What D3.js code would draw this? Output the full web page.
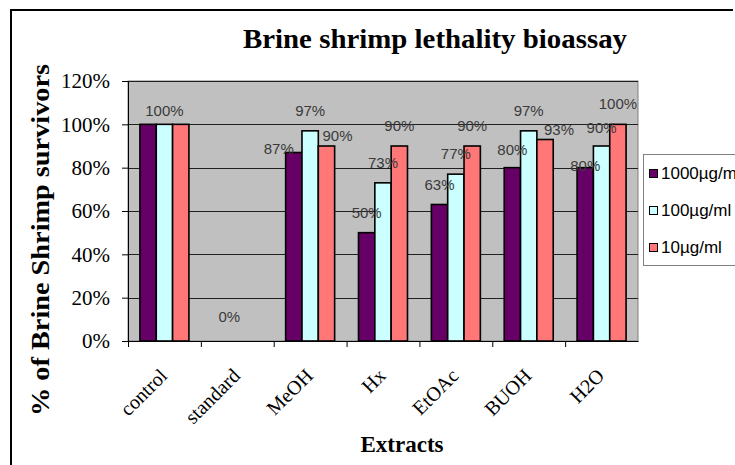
<!DOCTYPE html>
<html>
<head>
<meta charset="utf-8">
<script src="https://cdn.jsdelivr.net/npm/d3@7"></script>
<style>
  html, body { margin: 0; padding: 0; background: #fff; }
  svg { display: block; }
</style>
</head>
<body>
<svg id="chart" width="735" height="465"></svg>
<script>
// ---- data ----
const categories = ["control", "standard", "MeOH", "Hx", "EtOAc", "BUOH", "H2O"];
const seriesNames = ["1000\u00b5g/ml", "100\u00b5g/ml", "10\u00b5g/ml"];
const values1000 = [100, 0, 87, 50, 63, 80, 80];
const values100  = [100, 0, 97, 73, 77, 97, 90];
const values10   = [100, 0, 90, 90, 90, 93, 100];
const yTicks = [0, 20, 40, 60, 80, 100, 120];
const titleText = "Brine shrimp lethality bioassay";
const yTitle = "% of Brine Shrimp survivors";
const xTitle = "Extracts";

// ---- layout / style config ----
const colors = ["#660066", "#CCFFFF", "#FF7777"];
// label nudges (dx, dy) and hidden labels, keyed "category|seriesIndex"
const labelNudge = {
  "control|0": null, "control|2": null, "control|1": [0, 7],
  "standard|0": null, "standard|2": null, "standard|1": [-8, -4],
  "MeOH|0": [-15, 16], "MeOH|2": [11, 10],
  "BUOH|0": [0, 2], "BUOH|2": [14, 10],
  "H2O|0": [0, 18], "H2O|1": [0, 2]
};

const svg = d3.select("#chart");
const plot = { left: 128, right: 638, top: 81, bottom: 341 };

const series = [values1000, values100, values10].map((vals, i) => ({
  name: seriesNames[i], color: colors[i],
  points: categories.map((c, j) => ({ cat: c, v: vals[j], si: i }))
}));

const x = d3.scaleBand().domain(categories).range([plot.left, plot.right]).padding(0);
const y = d3.scaleLinear().domain([0, 120]).range([plot.bottom, plot.top]);
const groupW = 49;
const xs = d3.scaleBand().domain([0, 1, 2]).range([0, groupW]).padding(0);

// outer frame
svg.append("line").attr("x1", 11).attr("x2", 11).attr("y1", 9).attr("y2", 465)
  .attr("stroke", "#000").attr("stroke-width", 2);
svg.append("line").attr("x1", 10).attr("x2", 733).attr("y1", 10).attr("y2", 10)
  .attr("stroke", "#000").attr("stroke-width", 2);

// plot background
svg.append("rect")
  .attr("x", plot.left).attr("y", plot.top)
  .attr("width", plot.right - plot.left).attr("height", plot.bottom - plot.top)
  .attr("fill", "#C0C0C0").attr("stroke", "#808080").attr("stroke-width", 1);

// gridlines
svg.append("g").selectAll("line").data(yTicks.filter(t => t > 0)).join("line")
  .attr("x1", plot.left).attr("x2", plot.right)
  .attr("y1", d => Math.round(y(d)) + 0.5).attr("y2", d => Math.round(y(d)) + 0.5)
  .attr("stroke", "#202020").attr("stroke-width", 1);

// y axis
const yAxis = d3.axisLeft(y).tickValues(yTicks).tickFormat(d => d + "%").tickSize(6).tickPadding(12);
const gy = svg.append("g").attr("transform", `translate(${plot.left},0)`).call(yAxis);
gy.select(".domain").attr("stroke", "#000");
gy.selectAll(".tick line").attr("stroke", "#000");
gy.selectAll(".tick text")
  .attr("font-family", "'Liberation Serif', 'Times New Roman', serif")
  .attr("font-size", 21).attr("fill", "#000");

// bars
const groups = svg.append("g").selectAll("g").data(series).join("g")
  .attr("fill", d => d.color);
groups.selectAll("rect").data(d => d.points).join("rect")
  .attr("x", d => x(d.cat) + (x.bandwidth() - groupW) / 2 + xs(d.si))
  .attr("y", d => y(d.v))
  .attr("width", xs.bandwidth())
  .attr("height", d => y(0) - y(d.v))
  .attr("stroke", "#000").attr("stroke-width", 1.6);

// x axis
const xAxis = d3.axisBottom(x).tickSize(0).tickFormat("");
const gx = svg.append("g").attr("transform", `translate(0,${plot.bottom})`).call(xAxis);
gx.select(".domain").attr("stroke", "#000");
const boundaries = categories.map(c => x(c));
svg.append("g").selectAll("line").data(boundaries).join("line")
  .attr("x1", d => d + 0.5).attr("x2", d => d + 0.5)
  .attr("y1", plot.bottom).attr("y2", plot.bottom + 6)
  .attr("stroke", "#000");

// x tick labels (rotated)
svg.append("g").selectAll("text").data(categories).join("text")
  .attr("transform", d => `translate(${x(d) + x.bandwidth() / 2 + 4},${plot.bottom + 36}) rotate(-45)`)
  .attr("text-anchor", "end")
  .attr("font-family", "'Liberation Serif', 'Times New Roman', serif")
  .attr("font-size", 20).attr("fill", "#000")
  .text(d => d);

// data labels
const allPts = series.flatMap(s => s.points);
svg.append("g").selectAll("text")
  .data(allPts.filter(p => labelNudge[p.cat + "|" + p.si] !== null))
  .join("text")
  .attr("x", p => {
    const n = labelNudge[p.cat + "|" + p.si] || [0, 0];
    return x(p.cat) + (x.bandwidth() - groupW) / 2 + xs(p.si) + xs.bandwidth() / 2 + n[0];
  })
  .attr("y", p => {
    const n = labelNudge[p.cat + "|" + p.si] || [0, 0];
    return y(p.v) - 15 + n[1];
  })
  .attr("text-anchor", "middle")
  .attr("font-family", "'Liberation Sans', Arial, sans-serif")
  .attr("font-size", 15).attr("fill", "#3a3a3a")
  .text(p => p.v + "%");

// title
svg.append("text")
  .attr("x", 435).attr("y", 48)
  .attr("text-anchor", "middle")
  .attr("font-family", "'Liberation Serif', 'Times New Roman', serif")
  .attr("font-weight", "bold").attr("font-size", 27)
  .attr("textLength", 384).attr("lengthAdjust", "spacingAndGlyphs")
  .text(titleText);

// y title
svg.append("text")
  .attr("transform", "translate(49,240) rotate(-90)")
  .attr("text-anchor", "middle")
  .attr("font-family", "'Liberation Serif', 'Times New Roman', serif")
  .attr("font-weight", "bold").attr("font-size", 25)
  .attr("textLength", 352).attr("lengthAdjust", "spacingAndGlyphs")
  .text(yTitle);

// x title
svg.append("text")
  .attr("x", 402).attr("y", 452)
  .attr("text-anchor", "middle")
  .attr("font-family", "'Liberation Serif', 'Times New Roman', serif")
  .attr("font-weight", "bold").attr("font-size", 23)
  .text(xTitle);

// legend
const lg = svg.append("g").attr("transform", "translate(643,154)");
lg.append("rect").attr("x", 0.5).attr("y", 0.5).attr("width", 120).attr("height", 111)
  .attr("fill", "#fff").attr("stroke", "#808080");
const items = lg.selectAll("g.item").data(series).join("g").attr("class", "item")
  .attr("transform", (d, i) => `translate(0,${19 + i * 37})`);
items.append("rect").attr("x", 6.5).attr("y", -3.5).attr("width", 8).attr("height", 8)
  .attr("fill", d => d.color).attr("stroke", "#000").attr("stroke-width", 1);
items.append("text").attr("x", 18).attr("y", 6)
  .attr("font-family", "'Liberation Sans', Arial, sans-serif")
  .attr("font-size", 17).attr("fill", "#000")
  .text(d => d.name);
</script>
</body>
</html>
